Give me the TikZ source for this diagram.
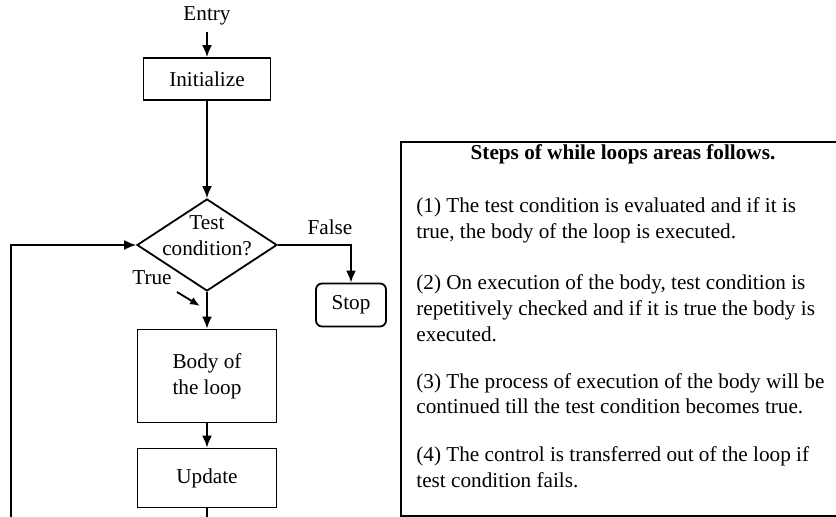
\documentclass[tikz,border=0pt]{standalone}
\usepackage{fontspec}
\setmainfont{Liberation Serif}
\usetikzlibrary{shapes.geometric,arrows.meta}
\tikzset{
  box/.style={draw,line width=0.9pt,align=center,inner sep=0pt},
  arrow/.style={line width=0.9pt,-{Latex[length=6pt,width=5pt]}},
  conn/.style={line width=0.9pt},
  txt/.style={anchor=base west,inner sep=0pt},
}
\begin{document}
\begin{tikzpicture}[x=0.5pt,y=-0.5pt,font=\fontsize{10.6}{13}\selectfont]
\useasboundingbox (0,0) rectangle (836,517);
% flow chart
\node (entry) at (207,16) {Entry};
\node[box,minimum width=63.5pt,minimum height=21pt] (init) at (207,79) {Initialize};
\node[draw,diamond,line width=0.9pt,aspect=1.52,inner sep=0pt,minimum width=70pt,minimum height=46pt] (test) at (207,245) {};
\node[align=center,inner sep=0pt] (testtext) at (207,236) {Test\\condition?};
\node[box,minimum width=69.5pt,minimum height=46.5pt] (body) at (207,376) {Body of\\the loop};
\node[box,minimum width=69.5pt,minimum height=29.5pt] (update) at (207,478) {Update};
\node[box,rounded corners=3pt,minimum width=35pt,minimum height=21.5pt] (stop) at (351,305) {Stop};
\node (false) at (330,227) {False};
\node (true) at (152,278) {True};
\coordinate (truefrom) at (177,292);
\coordinate (trueto) at (200,306);
\coordinate (loopend) at (207,517);
\coordinate (loopstart) at (11,517);
%
\draw[arrow] (entry) -- (init);
\draw[arrow] (init) -- (test);
\draw[arrow] (test) -- (body);
\draw[arrow] (body) -- (update);
\draw[arrow] (test.east) -| (stop.north);
\draw[conn] (update) -- (loopend);
\draw[arrow] (loopstart) |- (test.west);
\draw[line width=0.9pt,-{Latex[length=5pt,width=4pt]}] (truefrom) -- (trueto);
% steps
\draw[conn] (836,142) -| (401,516) -- (836,516);
\node[anchor=base,inner sep=0pt,font=\fontsize{10.6}{13}\selectfont\bfseries] (title) at (623,160) {Steps of while loops areas follows.};
\node[txt] (p1a) at (416,213) {(1) The test condition is evaluated and if it is};
\node[txt] (p1b) at (416,239) {true, the body of the loop is executed.};
\node[txt] (p2a) at (416,290) {(2) On execution of the body, test condition is};
\node[txt] (p2b) at (416,316) {repetitively checked and if it is true the body is};
\node[txt] (p2c) at (416,342) {executed.};
\node[txt] (p3a) at (416,389) {(3) The process of execution of the body will be};
\node[txt] (p3b) at (416,414) {continued till the test condition becomes true.};
\node[txt] (p4a) at (416,462) {(4) The control is transferred out of the loop if};
\node[txt] (p4b) at (416,488) {test condition fails.};
\end{tikzpicture}
\end{document}
